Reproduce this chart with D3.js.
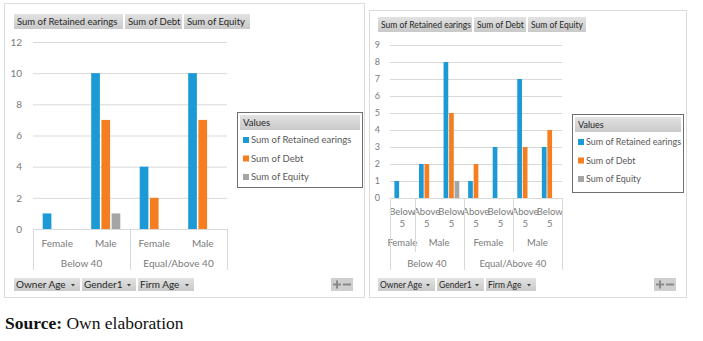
<!DOCTYPE html>
<html>
<head>
<meta charset="utf-8">
<script src="https://cdn.jsdelivr.net/npm/d3@7/dist/d3.min.js"></script>
<style>
  body { margin: 0; background: #fff; }
  svg text { font-family: Lato, "Liberation Sans", sans-serif; }
</style>
</head>
<body>
<svg id="main" width="703" height="341"></svg>
<script>
// series shared by both pivot charts
var seriesNames = ["Sum of Retained earings", "Sum of Debt", "Sum of Equity"];
var seriesColors = ["#1b9ad6", "#f47e20", "#a5a5a5"];
var filterButtons = ["Owner Age", "Gender1", "Firm Age"];

// left chart: owner age x gender
var ownerAgeA = ["Below 40", "Below 40", "Equal/Above 40", "Equal/Above 40"];
var genderA = ["Female", "Male", "Female", "Male"];
var retainedA = [1, 10, 4, 10];
var debtA = [null, 7, 2, 7];
var equityA = [null, 1, null, null];
var ticksA = [0, 2, 4, 6, 8, 10, 12];

// right chart: owner age x gender x firm age
var ownerAgeB = ["Below 40", "Below 40", "Below 40", "Equal/Above 40", "Equal/Above 40", "Equal/Above 40", "Equal/Above 40"];
var genderB = ["Female", "Male", "Male", "Female", "Female", "Male", "Male"];
var firmAgeB = ["Below 5", "Above 5", "Below 5", "Above 5", "Below 5", "Above 5", "Below 5"];
var retainedB = [1, 2, 8, 1, 3, 7, 3];
var debtB = [null, 2, 5, 2, null, 3, 4];
var equityB = [null, null, 1, null, null, null, null];
var ticksB = [0, 1, 2, 3, 4, 5, 6, 7, 8, 9];

var svg = d3.select("#main");

var defs = svg.append("defs");
var grad = defs.append("linearGradient").attr("id", "btn").attr("x1", 0).attr("y1", 0).attr("x2", 0).attr("y2", 1);
grad.append("stop").attr("offset", "0%").attr("stop-color", "#e2e2e2");
grad.append("stop").attr("offset", "100%").attr("stop-color", "#c9c9c9");

// group consecutive equal labels into spans
var spans = function (labels, parents) {
    var out = [];
    labels.forEach(function (l, i) {
        var key = l + "|" + (parents ? parents[i] : "");
        var last = out[out.length - 1];
        if (last && last.key === key) { last.end = i; }
        else { out.push({key: key, label: l, start: i, end: i}); }
    });
    return out;
};

var drawPanel = function (p) {
    var g = svg.append("g");

    // panel frame
    g.append("rect")
        .attr("x", p.frame[0] + 0.5).attr("y", p.frame[1] + 0.5)
        .attr("width", p.frame[2]).attr("height", p.frame[3])
        .attr("fill", "#fff").attr("stroke", "#dcdcdc");

    // header field buttons
    var hx = p.header[0];
    seriesNames.forEach(function (s, i) {
        var w = p.headerW[i];
        g.append("rect").attr("x", hx).attr("y", p.header[1]).attr("width", w).attr("height", 15)
            .attr("fill", "url(#btn)");
        g.append("text").attr("x", hx + 3).attr("y", p.header[1] + 11)
            .attr("font-size", p.headerFont).attr("fill", "#262626").text(s);
        hx += w + 2;
    });

    var y = d3.scaleLinear().domain(p.yDomain).range([p.plot[3], p.plot[1]]);
    var x = d3.scaleBand().domain(d3.range(p.values[0].length)).range([p.plot[0], p.plot[2]]);
    var xs = d3.scaleBand().domain(d3.range(seriesNames.length))
        .range([x.bandwidth() * p.groupPad, x.bandwidth() * (1 - p.groupPad)]).paddingInner(0.15);

    // gridlines + tick labels
    var yAxis = d3.axisLeft(y).tickValues(p.ticks).tickSize(-(p.plot[2] - p.plot[0])).tickPadding(p.tickPad);
    var ga = g.append("g").attr("transform", "translate(" + p.plot[0] + ",0)").call(yAxis);
    ga.select(".domain").remove();
    ga.selectAll("line").attr("stroke", "#d9d9d9");
    ga.selectAll("text").attr("fill", "#7a7a7a").attr("font-size", p.tickFont)
        .style("font-family", "Lato, sans-serif");

    // bars
    p.values.forEach(function (vals, si) {
        g.append("g").selectAll("rect")
            .data(vals.map(function (v, i) { return {v: v, i: i}; }).filter(function (d) { return d.v != null; }))
            .enter().append("rect")
            .attr("x", function (d) { return x(d.i) + xs(si); })
            .attr("width", xs.bandwidth())
            .attr("y", function (d) { return y(d.v); })
            .attr("height", function (d) { return y(0) - y(d.v); })
            .attr("fill", seriesColors[si]);
    });

    // multi-level category axis
    var base = p.plot[3];
    var sepColor = "#d9d9d9";
    p.levels.forEach(function (lv) {
        spans(lv.labels, lv.parents).forEach(function (s) {
            var x0 = x(s.start), x1 = x(s.end) + x.bandwidth();
            var lines = lv.wrap ? s.label.split(" ") : [s.label];
            lines.forEach(function (t, k) {
                g.append("text").attr("x", (x0 + x1) / 2).attr("y", lv.y + k * lv.lineH)
                    .attr("text-anchor", "middle").attr("font-size", p.catFont)
                    .attr("fill", "#7a7a7a").text(t);
            });
            if (lv.sepTo) {
                [x0, x1].forEach(function (xx) {
                    g.append("line").attr("x1", Math.round(xx) + 0.5).attr("x2", Math.round(xx) + 0.5)
                        .attr("y1", base).attr("y2", lv.sepTo).attr("stroke", sepColor);
                });
            }
        });
    });

    // legend
    var lg = g.append("g").attr("transform", "translate(" + p.legend[0] + "," + p.legend[1] + ")");
    lg.append("rect").attr("x", 0.5).attr("y", 0.5).attr("width", p.legend[2]).attr("height", p.legend[3])
        .attr("fill", "#fff").attr("stroke", "#6f6f6f");
    lg.append("rect").attr("x", 3).attr("y", 3).attr("width", p.legend[2] - 5).attr("height", 15)
        .attr("fill", "url(#btn)");
    lg.append("text").attr("x", 6).attr("y", 14).attr("font-size", p.legendFont).attr("fill", "#262626").text("Values");
    seriesNames.forEach(function (s, i) {
        var ly = 31 + i * p.legendStep;
        lg.append("rect").attr("x", 6).attr("y", ly - 6).attr("width", 6).attr("height", 6).attr("fill", seriesColors[i]);
        lg.append("text").attr("x", 14).attr("y", ly).attr("font-size", p.legendFont).attr("fill", "#595959").text(s);
    });

    // bottom filter buttons
    var bx = p.footer[0];
    filterButtons.forEach(function (b, i) {
        var w = p.footerW[i];
        g.append("rect").attr("x", bx).attr("y", p.footer[1]).attr("width", w).attr("height", 13).attr("fill", "url(#btn)");
        g.append("text").attr("x", bx + 2).attr("y", p.footer[1] + 10).attr("font-size", p.footerFont)
            .attr("fill", "#262626").text(b);
        g.append("path")
            .attr("d", "M" + (bx + w - 9) + "," + (p.footer[1] + 6) + "l4,0l-2,2.5z")
            .attr("fill", "#444");
        bx += w + 2;
    });

    // zoom +/- buttons
    var zx = p.zoomBtn[0], zy = p.zoomBtn[1];
    g.append("rect").attr("x", zx).attr("y", zy).attr("width", 22).attr("height", 13).attr("fill", "#cfcfcf");
    g.append("path").attr("d", "M" + (zx + 2) + "," + (zy + 6.5) + "h8M" + (zx + 6) + "," + (zy + 2.5) + "v8M" + (zx + 12) + "," + (zy + 6.5) + "h8")
        .attr("stroke", "#8a8a8a").attr("stroke-width", 2);
};

drawPanel({
    frame: [4, 3, 360, 294],
    header: [14, 14], headerW: [109, 57, 66], headerFont: 9.5,
    plot: [33, 42, 227, 229], yDomain: [0, 12], ticks: ticksA, tickPad: 11, tickFont: 10,
    values: [retainedA, debtA, equityA], groupPad: 0.2,
    catFont: 10,
    levels: [
        {labels: genderA, parents: ownerAgeA, y: 247, lineH: 0},
        {labels: ownerAgeA, y: 267, lineH: 0, sepTo: 270}
    ],
    legend: [237, 112, 125, 75], legendFont: 9.5, legendStep: 18.5,
    footer: [14, 278], footerW: [66, 54, 56], footerFont: 10,
    zoomBtn: [331, 278]
});

drawPanel({
    frame: [369, 10, 317, 287],
    header: [378, 17], headerW: [94, 52, 58], headerFont: 8.5,
    plot: [390, 45, 562, 198], yDomain: [0, 9], ticks: ticksB, tickPad: 10, tickFont: 9,
    values: [retainedB, debtB, equityB], groupPad: 0.18,
    catFont: 9.5,
    levels: [
        {labels: firmAgeB, parents: genderB.map(function (g, i) { return ownerAgeB[i] + g + i; }), y: 215, lineH: 12, wrap: true},
        {labels: genderB, parents: ownerAgeB, y: 246, lineH: 0, sepTo: 252},
        {labels: ownerAgeB, y: 267, lineH: 0, sepTo: 270}
    ],
    legend: [572, 114, 111, 78], legendFont: 9, legendStep: 18.5,
    footer: [378, 278], footerW: [57, 47, 50], footerFont: 8.5,
    zoomBtn: [654, 278]
});

// caption
var cap = svg.append("text").attr("x", 5).attr("y", 329)
    .style("font-family", "'Liberation Serif', serif").attr("font-size", 17.5).attr("fill", "#111");
cap.append("tspan").attr("font-weight", "bold").text("Source:");
cap.append("tspan").text(" Own elaboration");
</script>
</body>
</html>
